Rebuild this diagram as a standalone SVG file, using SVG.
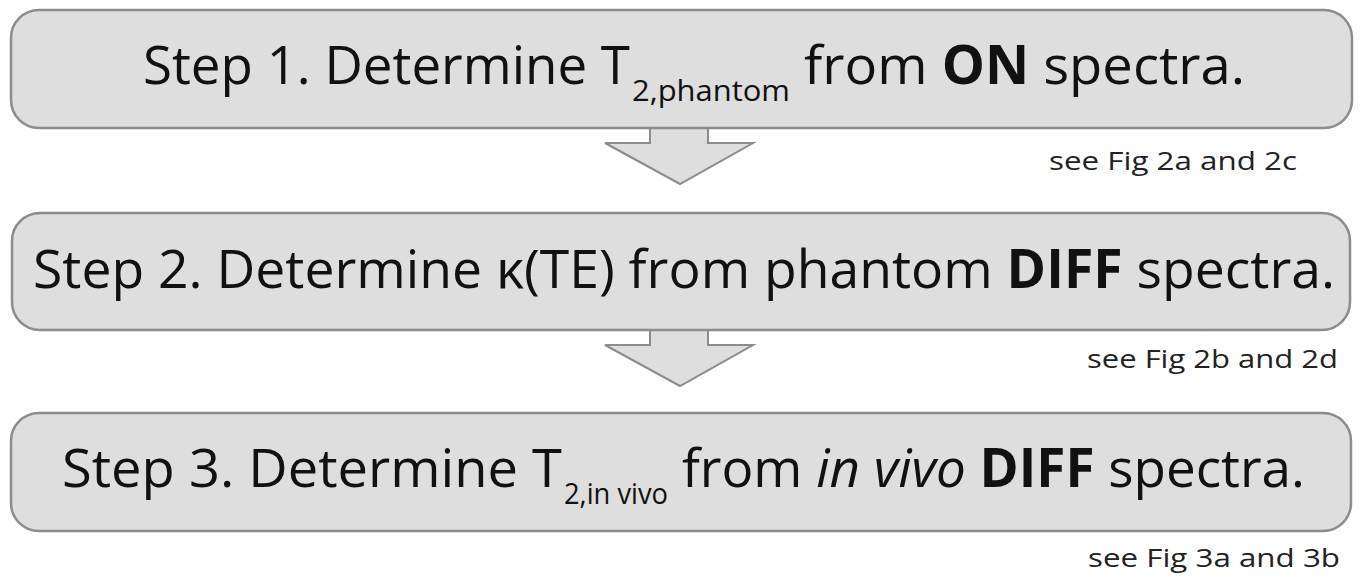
<svg xmlns="http://www.w3.org/2000/svg" width="1361" height="580" viewBox="0 0 1361 580">
<style>
.box{fill:#dedede;stroke:#8c8c8c;stroke-width:2.5}
.arrow{fill:#dedede;stroke:#8c8c8c;stroke-width:2;stroke-linejoin:miter}
.t{font-family:"Open Sans","Noto Sans",sans-serif;font-size:53px;fill:#111}
.sub{font-size:30px}
.b{font-weight:bold}
.i{font-style:italic}
.note{font-family:"Open Sans","Noto Sans",sans-serif;font-size:25px;fill:#222}
</style>
<rect width="1361" height="580" fill="#fff"/>
<g id="connectors">
<polygon class="arrow" points="650,127 708,127 708,143 753,143 680,184 605,143 650,143"/>
<polygon class="arrow" points="650,329 708,329 708,345 753,345 680,386 605,345 650,345"/>
</g>
<g id="step1">
<rect class="box" x="11" y="10" width="1341" height="118" rx="28"/>
<text class="t" y="84"><tspan x="143" textLength="487" lengthAdjust="spacingAndGlyphs">Step 1. Determine T</tspan><tspan class="sub" x="632" y="101" textLength="158" lengthAdjust="spacingAndGlyphs">2,phantom</tspan><tspan x="804" y="84" textLength="441" lengthAdjust="spacingAndGlyphs">from <tspan class="b">ON</tspan> spectra.</tspan></text>
<text class="note" x="1049" y="170" textLength="248" lengthAdjust="spacingAndGlyphs">see Fig 2a and 2c</text>
</g>
<g id="step2">
<rect class="box" x="12" y="213" width="1338" height="117" rx="28"/>
<text class="t" x="33" y="288" textLength="1302" lengthAdjust="spacingAndGlyphs">Step 2. Determine κ(TE) from phantom <tspan class="b">DIFF</tspan> spectra.</text>
<text class="note" x="1087" y="368" textLength="251" lengthAdjust="spacingAndGlyphs">see Fig 2b and 2d</text>
</g>
<g id="step3">
<rect class="box" x="11" y="413" width="1340" height="118" rx="28"/>
<text class="t" y="487"><tspan x="62" textLength="500" lengthAdjust="spacingAndGlyphs">Step 3. Determine T</tspan><tspan class="sub" x="564" y="504" textLength="104" lengthAdjust="spacingAndGlyphs">2,in vivo</tspan><tspan x="682" y="487" textLength="623" lengthAdjust="spacingAndGlyphs">from <tspan class="i">in vivo</tspan> <tspan class="b">DIFF</tspan> spectra.</tspan></text>
<text class="note" x="1088" y="567" textLength="252" lengthAdjust="spacingAndGlyphs">see Fig 3a and 3b</text>
</g>
</svg>
